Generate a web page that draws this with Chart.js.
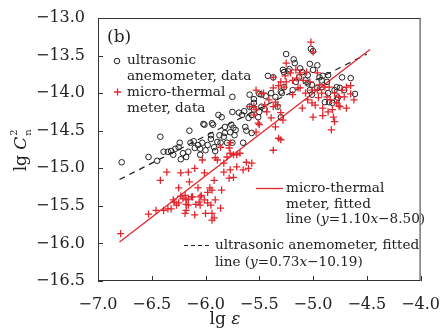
<!DOCTYPE html>
<html>
<head>
<meta charset="utf-8">
<script src="https://cdn.jsdelivr.net/npm/chart.js@4.4.0/dist/chart.umd.min.js"></script>
<style>
  html, body { margin: 0; padding: 0; background: #fff; }
</style>
</head>
<body>
<canvas id="chart" width="446" height="331"></canvas>
<script>
// ultrasonic anemometer (black circles)
const anemoX = [
  -6.78,-6.53,-6.45,-6.42,-6.39,-6.35,-6.32,-6.30,-6.28,-6.25,
  -6.24,-6.23,-6.21,-6.18,-6.15,-6.16,-6.14,-6.11,-6.10,-6.07,
  -6.05,-6.05,-6.01,-6.03,-6.00,-5.98,-5.95,-5.93,-5.92,-5.91,
  -5.88,-5.87,-5.86,-5.85,-5.83,-5.82,-5.80,-5.77,-5.76,-5.75,
  -5.74,-5.73,-5.72,-5.69,-5.66,-5.65,-5.63,-5.60,-5.57,-5.55,
  -5.51,-5.50,-5.75,-5.59,-5.55,-5.50,-5.42,-5.37,-5.27,-5.48,
  -5.44,-5.35,-5.29,-5.64,-5.59,-5.55,-5.48,-5.45,-6.02,-5.94,
  -5.82,-5.62,-5.57,-5.95,-5.89,-5.75,-5.25,-5.18,-5.17,-5.02,
  -5.00,-5.03,-4.96,-5.28,-5.23,-5.10,-5.00,-5.05,-5.13,-5.07,
  -4.86,-4.94,-4.92,-4.87,-4.73,-4.65,-5.16,-5.05,-5.01,-4.96,
  -4.92,-5.39,-5.30,-5.27,-5.19,-5.03,-5.01,-4.86,-4.80,-4.75,
  -4.61,-4.89,-4.85,-4.82,-4.78,-5.33,-5.30,-4.71,-5.22,-5.12,
  -4.91,-4.78,-4.77
];
const anemoY = [
  -14.92,-14.85,-14.90,-14.58,-14.78,-14.78,-14.77,-14.82,-14.74,-14.72,
  -14.66,-14.88,-14.80,-14.85,-14.50,-14.78,-14.66,-14.64,-14.73,-14.69,
  -14.82,-14.74,-14.42,-14.66,-14.76,-14.69,-14.56,-14.42,-14.72,-14.77,
  -14.29,-14.56,-14.66,-14.32,-14.58,-14.53,-14.66,-14.52,-14.42,-14.25,
  -14.46,-14.56,-14.49,-14.26,-14.29,-14.66,-14.45,-14.33,-14.29,-14.22,
  -14.32,-14.25,-14.05,-14.02,-14.08,-14.01,-13.77,-13.79,-13.72,-14.02,
  -14.04,-14.05,-14.00,-14.24,-14.18,-14.13,-14.18,-14.21,-14.41,-14.40,
  -14.45,-14.50,-14.53,-14.61,-14.65,-14.66,-13.48,-13.55,-13.60,-13.41,
  -13.44,-13.61,-13.63,-13.69,-13.71,-13.72,-13.69,-13.76,-13.79,-13.83,
  -13.76,-13.79,-13.83,-13.85,-13.79,-13.80,-13.85,-13.87,-13.89,-13.93,
  -13.92,-14.00,-13.98,-13.92,-13.96,-13.96,-14.02,-14.00,-13.96,-13.93,
  -14.01,-14.12,-14.12,-14.13,-14.09,-14.18,-14.32,-13.96,-13.68,-13.67,
  -13.77,-13.92,-14.06
];

// micro-thermal meter (red crosses)
const thermX = [
  -6.79,-6.53,-6.46,-6.39,-6.35,-6.32,-6.29,-6.27,-6.25,-6.23,
  -6.21,-6.18,-6.16,-6.13,-6.09,-6.06,-6.19,-6.10,-6.04,-6.42,
  -6.36,-6.23,-6.16,-6.10,-6.15,-6.03,-5.91,-6.01,-6.07,-6.25,
  -6.19,-6.30,-6.18,-6.16,-6.12,-6.05,-6.01,-5.98,-5.96,-5.94,
  -5.91,-5.86,-5.85,-5.98,-6.18,-5.94,-5.92,-5.83,-5.83,-5.80,
  -5.77,-5.74,-5.71,-5.68,-5.77,-5.74,-5.78,-5.65,-5.62,-5.57,
  -5.60,-5.89,-5.92,-5.71,-5.95,-6.00,-5.94,-6.05,-5.86,-5.78,
  -5.77,-5.37,-5.32,-5.30,-5.50,-5.53,-5.55,-5.55,-5.51,-5.39,
  -5.30,-5.28,-5.35,-5.41,-5.35,-5.33,-5.53,-5.45,-5.37,-5.43,
  -5.59,-5.48,-5.53,-5.46,-5.37,-5.32,-5.37,-5.30,-5.27,-5.02,
  -5.00,-5.25,-5.26,-5.16,-5.12,-5.06,-5.21,-5.25,-5.19,-5.15,
  -5.14,-5.03,-4.96,-4.94,-4.89,-4.85,-4.96,-4.92,-4.87,-4.84,
  -4.95,-4.78,-4.75,-4.69,-4.73,-4.69,-4.65,-4.62,-5.05,-5.01,
  -4.98,-4.91,-4.82,-5.10,-5.00,-4.91,-4.81,-4.86,-4.80,-4.83,
  -4.76,-5.07,-5.19,-5.01,-4.80,-4.76,-4.71,-4.65,-5.09,-5.12
];
const thermY = [
  -15.87,-15.61,-15.56,-15.56,-15.54,-15.54,-15.45,-15.49,-15.46,-15.37,
  -15.40,-15.48,-15.41,-15.38,-15.48,-15.45,-15.60,-15.62,-15.36,-15.16,
  -15.05,-15.06,-15.05,-15.00,-15.18,-14.89,-14.86,-15.06,-15.26,-15.26,
  -15.36,-15.42,-15.42,-15.49,-15.38,-15.38,-15.42,-15.32,-15.26,-15.29,
  -15.42,-15.53,-15.29,-15.46,-15.56,-15.60,-15.66,-15.05,-14.93,-14.85,
  -14.80,-14.82,-14.82,-14.80,-15.02,-15.12,-15.13,-15.02,-14.92,-14.93,
  -15.00,-14.89,-15.16,-14.98,-15.49,-15.60,-15.69,-15.49,-14.72,-14.73,
  -14.66,-14.76,-14.60,-14.62,-14.42,-14.52,-14.18,-14.29,-14.40,-14.33,
  -14.26,-14.36,-14.45,-14.09,-14.12,-14.16,-14.22,-14.16,-14.18,-14.25,
  -14.18,-14.01,-13.96,-14.00,-13.93,-13.90,-13.79,-13.85,-13.92,-13.32,
  -13.45,-13.60,-13.77,-13.69,-13.73,-13.72,-13.73,-13.85,-13.83,-13.80,
  -13.93,-13.85,-13.73,-13.89,-13.92,-13.92,-13.96,-14.00,-14.05,-14.09,
  -14.06,-14.13,-14.18,-14.20,-13.96,-13.92,-13.90,-14.09,-14.09,-14.13,
  -14.16,-14.20,-14.22,-14.20,-14.32,-14.30,-14.32,-14.25,-14.38,-14.49,
  -14.17,-14.00,-14.02,-13.96,-14.00,-14.05,-14.05,-14.01,-13.83,-13.93
];

// fitted lines, end points
const thermFitX = [-6.80, -4.47];
const thermFitY = [-15.98, -13.42];
const anemoFitX = [-6.80, -4.50];
const anemoFitY = [-15.15, -13.48];

const xTicks = [-7.0, -6.5, -6.0, -5.5, -5.0, -4.5, -4.0];
const yTicks = [-16.5, -16.0, -15.5, -15.0, -14.5, -14.0, -13.5, -13.0];

const RED = '#e3262c';
const SERIF = '"DejaVu Serif", serif';

const zip = (xs, ys) => xs.map((x, i) => ({ x: x, y: ys[i] }));
const fmt = v => (v < 0 ? '\u2212' : '') + Math.abs(v).toFixed(1);

// draw a line of text made of plain / italic runs
function drawRuns(ctx, x, y, parts, size) {
  let cx = x;
  parts.forEach(p => {
    ctx.font = (p[1] ? 'italic ' : '') + size + 'px ' + SERIF;
    ctx.fillText(p[0], cx, y);
    cx += ctx.measureText(p[0]).width;
  });
  return cx - x;
}

const decorations = {
  id: 'decorations',
  afterDraw(chart) {
    const { ctx, chartArea: a, scales } = chart;
    ctx.save();
    ctx.strokeStyle = '#333';
    ctx.lineWidth = 1;
    ctx.strokeRect(a.left + 0.5, a.top + 0.5, a.right - a.left - 1, a.bottom - a.top - 1);

    // inward ticks
    ctx.beginPath();
    scales.x.ticks.forEach(t => {
      const px = Math.round(scales.x.getPixelForValue(t.value)) + 0.5;
      ctx.moveTo(px, a.bottom);
      ctx.lineTo(px, a.bottom - 5);
    });
    scales.y.ticks.forEach(t => {
      const py = Math.round(scales.y.getPixelForValue(t.value)) + 0.5;
      ctx.moveTo(a.left, py);
      ctx.lineTo(a.left + 5, py);
    });
    ctx.stroke();

    ctx.fillStyle = '#222';
    ctx.textBaseline = 'middle';
    ctx.textAlign = 'left';

    // panel label
    ctx.font = '17px ' + SERIF;
    ctx.fillText('(b)', 107, 38);

    // data legend
    ctx.strokeStyle = '#222';
    ctx.lineWidth = 1;
    ctx.beginPath();
    ctx.arc(117, 61, 2.8, 0, Math.PI * 2);
    ctx.stroke();
    drawRuns(ctx, 127, 60, [['ultrasonic', false]], 13.6);
    drawRuns(ctx, 127, 76, [['anemometer, data', false]], 13.6);

    ctx.strokeStyle = RED;
    ctx.lineWidth = 1.3;
    ctx.beginPath();
    ctx.moveTo(114, 92); ctx.lineTo(121, 92);
    ctx.moveTo(117.5, 88.5); ctx.lineTo(117.5, 95.5);
    ctx.stroke();
    drawRuns(ctx, 127, 92, [['micro-thermal', false]], 13.6);
    drawRuns(ctx, 127, 108, [['meter, data', false]], 13.6);

    // fit legend
    ctx.strokeStyle = RED;
    ctx.lineWidth = 1.3;
    ctx.beginPath();
    ctx.moveTo(256, 188.5); ctx.lineTo(283, 188.5);
    ctx.stroke();
    drawRuns(ctx, 286, 188, [['micro-thermal', false]], 13.6);
    drawRuns(ctx, 286, 204, [['meter, fitted', false]], 13.6);
    drawRuns(ctx, 286, 219, [['line (', false], ['y', true], ['=1.10', false], ['x', true], ['\u22128.50)', false]], 13.6);

    ctx.strokeStyle = '#222';
    ctx.lineWidth = 1.2;
    ctx.setLineDash([4, 3]);
    ctx.beginPath();
    ctx.moveTo(184, 245.5); ctx.lineTo(212, 245.5);
    ctx.stroke();
    ctx.setLineDash([]);
    drawRuns(ctx, 215, 245, [['ultrasonic anemometer, fitted', false]], 13.6);
    drawRuns(ctx, 215, 262, [['line (', false], ['y', true], ['=0.73', false], ['x', true], ['\u221210.19)', false]], 13.6);

    // axis titles
    ctx.font = '17px ' + SERIF;
    let w1 = 0;
    ctx.font = '17px ' + SERIF; const wa = ctx.measureText('lg ').width;
    ctx.font = 'italic 17px ' + SERIF; const wb = ctx.measureText('\u03b5').width;
    w1 = wa + wb;
    drawRuns(ctx, 225 - w1 / 2, 320, [['lg ', false], ['\u03b5', true]], 17);

    ctx.translate(22, 150);
    ctx.rotate(-Math.PI / 2);
    ctx.font = '17px ' + SERIF; const ga = ctx.measureText('lg ').width;
    ctx.font = 'italic 17px ' + SERIF; const gc = ctx.measureText('C').width;
    const total = ga + gc + 8;
    let sx = -total / 2;
    drawRuns(ctx, sx, 0, [['lg ', false], ['C', true]], 17);
    ctx.font = '10px ' + SERIF;
    ctx.fillText('2', sx + ga + gc + 1, -8);
    ctx.fillText('n', sx + ga + gc + 1, 6);
    ctx.restore();
  }
};

new Chart(document.getElementById('chart'), {
  type: 'scatter',
  data: {
    datasets: [
      {
        label: 'micro-thermal meter, data',
        data: zip(thermX, thermY),
        pointStyle: 'cross',
        pointRadius: 3.6,
        borderColor: RED,
        backgroundColor: RED,
        borderWidth: 1.3
      },
      {
        label: 'ultrasonic anemometer, data',
        data: zip(anemoX, anemoY),
        pointStyle: 'circle',
        pointRadius: 2.8,
        borderColor: '#222',
        backgroundColor: 'rgba(0,0,0,0)',
        borderWidth: 1
      },
      {
        type: 'line',
        label: 'micro-thermal meter, fitted line',
        data: zip(thermFitX, thermFitY),
        borderColor: RED,
        borderWidth: 1.3,
        pointRadius: 0,
        fill: false
      },
      {
        type: 'line',
        label: 'ultrasonic anemometer, fitted line',
        data: zip(anemoFitX, anemoFitY),
        borderColor: '#222',
        borderWidth: 1.2,
        borderDash: [6, 5],
        pointRadius: 0,
        fill: false
      }
    ]
  },
  options: {
    responsive: false,
    animation: false,
    devicePixelRatio: 1,
    layout: { padding: { top: 18, right: 18, left: 0, bottom: 0 } },
    plugins: { legend: { display: false }, tooltip: { enabled: false } },
    scales: {
      x: {
        type: 'linear',
        min: -7, max: -4,
        afterFit: s => { s.height = 50; },
        afterBuildTicks: s => { s.ticks = xTicks.map(v => ({ value: v })); },
        grid: { display: false },
        border: { display: false },
        ticks: { callback: fmt, color: '#222', padding: 6, maxRotation: 0,
                 font: { family: SERIF, size: 16 } }
      },
      y: {
        type: 'linear',
        min: -16.5, max: -13,
        afterFit: s => { s.width = 98; },
        afterBuildTicks: s => { s.ticks = yTicks.map(v => ({ value: v })); },
        grid: { display: false },
        border: { display: false },
        ticks: { callback: fmt, color: '#222', padding: 5,
                 font: { family: SERIF, size: 16 } }
      }
    }
  },
  plugins: [decorations]
});
</script>
</body>
</html>
